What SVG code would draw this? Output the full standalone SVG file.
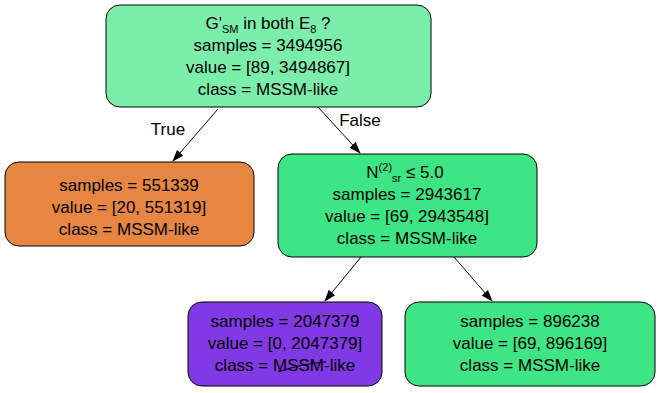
<svg xmlns="http://www.w3.org/2000/svg" width="660" height="393" viewBox="0 0 660 393">
<style>
.n{stroke:#000;stroke-width:1}
text{font-family:"Liberation Sans",Arial,sans-serif;font-size:17px;fill:#000;text-anchor:middle}
.e{stroke:#000;stroke-width:1;fill:none}
</style>
<defs>
<marker id="a" markerWidth="12" markerHeight="12" refX="11" refY="6" orient="auto" markerUnits="userSpaceOnUse">
<path d="M0,1.8 L12,6 L0,10.2 Z" fill="#000"/>
</marker>
</defs>
<rect width="660" height="393" fill="#fff"/>
<g id="edges">
<line class="e" x1="218" y1="109" x2="173" y2="161" marker-end="url(#a)"/>
<text x="168" y="135">True</text>
<line class="e" x1="318" y1="107" x2="360" y2="153" marker-end="url(#a)"/>
<text x="360" y="126">False</text>
<line class="e" x1="361" y1="257" x2="325" y2="301" marker-end="url(#a)"/>
<line class="e" x1="454" y1="257" x2="492" y2="301" marker-end="url(#a)"/>
</g>
<g id="node0">
<rect class="n" x="106" y="5" width="325" height="102" rx="14" fill="#7beeac"/>
<text x="268" y="29">G'<tspan font-size="11" dy="4">SM</tspan><tspan dy="-4"> in both E</tspan><tspan font-size="11" dy="4">8</tspan><tspan dy="-4"> ?</tspan></text>
<text x="268" y="51">samples = 3494956</text>
<text x="268" y="73">value = [89, 3494867]</text>
<text x="268" y="95">class = MSSM-like</text>
</g>
<g id="node1">
<rect class="n" x="5" y="162" width="249" height="84" rx="14" fill="#e68640"/>
<text x="129" y="191">samples = 551339</text>
<text x="129" y="213">value = [20, 551319]</text>
<text x="129" y="235">class = MSSM-like</text>
</g>
<g id="node2">
<rect class="n" x="278" y="154" width="259" height="103" rx="14" fill="#3de684"/>
<text x="405" y="178">N<tspan font-size="11" dy="-7">(2)</tspan><tspan font-size="11" dy="11">sr</tspan><tspan dy="-4">  ≤ 5.0</tspan></text>
<text x="407" y="200">samples = 2943617</text>
<text x="407" y="222">value = [69, 2943548]</text>
<text x="407" y="244">class = MSSM-like</text>
</g>
<g id="node3">
<rect class="n" x="188" y="302" width="194" height="84" rx="14" fill="#8139e5"/>
<text x="285" y="327">samples = 2047379</text>
<text x="285" y="349">value = [0, 2047379]</text>
<text x="285" y="371">class = MSSM-like</text>
<path d="M278,372 Q300,364 326,362" fill="none" stroke="#000" stroke-width="1"/>
</g>
<g id="node4">
<rect class="n" x="405" y="302" width="250" height="84" rx="14" fill="#3de584"/>
<text x="530" y="327">samples = 896238</text>
<text x="530" y="349">value = [69, 896169]</text>
<text x="530" y="371">class = MSSM-like</text>
</g>
</svg>
